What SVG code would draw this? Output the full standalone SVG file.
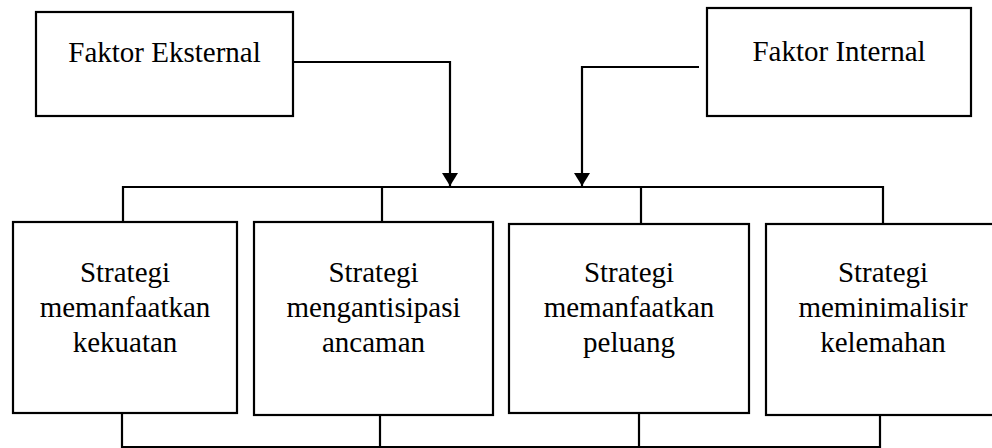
<svg xmlns="http://www.w3.org/2000/svg" width="992" height="448" viewBox="0 0 992 448">
<style>
.box{fill:#fff;stroke:#000;stroke-width:2.2}
.ln{fill:none;stroke:#000;stroke-width:2.2}
.t{font-family:"Liberation Serif","Times New Roman",serif;font-size:29px;fill:#000;text-anchor:middle}
</style>
<defs>
<marker id="ah" markerUnits="userSpaceOnUse" markerWidth="13" markerHeight="16" refX="13" refY="8" orient="auto" viewBox="0 0 13 16">
<path d="M0,0 L13,8 L0,16 Z" fill="#000"/>
</marker>
</defs>
<g id="connectors">
<path class="ln" d="M293,62 H450 V186" marker-end="url(#ah)"/>
<path class="ln" d="M699,67 H582 V186" marker-end="url(#ah)"/>
<path class="ln" d="M123,222 V187 H883 V224"/>
<path class="ln" d="M382,187 V222"/>
<path class="ln" d="M641,187 V224"/>
<path class="ln" d="M122,413 V447 H880 V415"/>
<path class="ln" d="M380,415 V447"/>
<path class="ln" d="M639,413 V447"/>
</g>
<g id="faktor-eksternal">
<rect class="box" x="36" y="12" width="257" height="104"/>
<text class="t" x="164.5" y="62">Faktor Eksternal</text>
</g>
<g id="faktor-internal">
<rect class="box" x="707" y="8" width="264" height="108"/>
<text class="t" x="839" y="61">Faktor Internal</text>
</g>
<g id="s-kekuatan">
<rect class="box" x="13" y="222" width="224" height="191"/>
<text class="t" x="125" y="282">Strategi</text>
<text class="t" x="125" y="317">memanfaatkan</text>
<text class="t" x="125" y="352">kekuatan</text>
</g>
<g id="s-ancaman">
<rect class="box" x="254" y="222" width="239" height="193"/>
<text class="t" x="373.5" y="282">Strategi</text>
<text class="t" x="373.5" y="317">mengantisipasi</text>
<text class="t" x="373.5" y="352">ancaman</text>
</g>
<g id="s-peluang">
<rect class="box" x="509" y="224" width="240" height="189"/>
<text class="t" x="629" y="282">Strategi</text>
<text class="t" x="629" y="317">memanfaatkan</text>
<text class="t" x="629" y="352">peluang</text>
</g>
<g id="s-kelemahan">
<rect class="box" x="766" y="224" width="230" height="191"/>
<text class="t" x="883" y="282">Strategi</text>
<text class="t" x="883" y="317">meminimalisir</text>
<text class="t" x="883" y="352">kelemahan</text>
</g>
</svg>
